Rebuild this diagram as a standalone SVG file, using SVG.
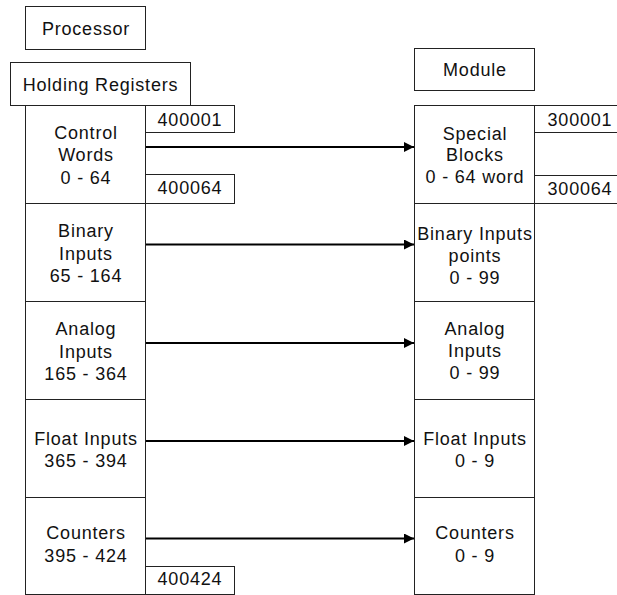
<svg xmlns="http://www.w3.org/2000/svg" width="617" height="595" viewBox="0 0 617 595">
<style>
rect{fill:#fff;stroke:#222;stroke-width:1}
text{font-family:"Liberation Sans",Arial,sans-serif;font-size:18px;letter-spacing:0.8px;fill:#111;text-anchor:middle}
.conn{stroke:#000;stroke-width:2;fill:none;marker-end:url(#ah)}
</style>
<defs>
<marker id="ah" markerUnits="userSpaceOnUse" markerWidth="10" markerHeight="10" refX="10" refY="5" orient="auto">
<path d="M0,0 L10,5 L0,10 z" fill="#000"/>
</marker>
</defs>
<g id="processor"><rect x="25.5" y="6.5" width="120" height="43"/><text x="86" y="35">Processor</text></g>
<g id="holding-registers"><rect x="10.5" y="62.5" width="180" height="43"/><text x="100.5" y="91">Holding Registers</text></g>
<g id="module"><rect x="414.5" y="48.5" width="120" height="42"/><text x="475" y="76">Module</text></g>

<g id="control-words"><rect x="25.5" y="105.5" width="120" height="98"/><text x="86" y="139">Control</text><text x="86" y="161">Words</text><text x="86" y="183.5">0 - 64</text></g>
<g id="binary-inputs-l"><rect x="25.5" y="203.5" width="120" height="98"/><text x="86" y="237">Binary</text><text x="86" y="259.5">Inputs</text><text x="86" y="282">65 - 164</text></g>
<g id="analog-inputs-l"><rect x="25.5" y="301.5" width="120" height="98"/><text x="86" y="335">Analog</text><text x="86" y="357.5">Inputs</text><text x="86" y="380">165 - 364</text></g>
<g id="float-inputs-l"><rect x="25.5" y="399.5" width="120" height="98"/><text x="86" y="445">Float Inputs</text><text x="86" y="467">365 - 394</text></g>
<g id="counters-l"><rect x="25.5" y="497.5" width="120" height="97"/><text x="86" y="538.5">Counters</text><text x="86" y="561.5">395 - 424</text></g>

<g id="addr-400001"><rect x="145.5" y="105.5" width="89" height="27"/><text x="190" y="126">400001</text></g>
<g id="addr-400064"><rect x="145.5" y="174.5" width="89" height="29"/><text x="190" y="194">400064</text></g>
<g id="addr-400424"><rect x="145.5" y="566.5" width="89" height="28"/><text x="190" y="585">400424</text></g>

<g id="special-blocks"><rect x="414.5" y="105.5" width="120" height="98"/><text x="475" y="140">Special</text><text x="475" y="161">Blocks</text><text x="475" y="183">0 - 64 word</text></g>
<g id="binary-inputs-r"><rect x="414.5" y="203.5" width="120" height="98"/><text x="475" y="239.5">Binary Inputs</text><text x="475" y="262">points</text><text x="475" y="284">0 - 99</text></g>
<g id="analog-inputs-r"><rect x="414.5" y="301.5" width="120" height="98"/><text x="475" y="335">Analog</text><text x="475" y="357">Inputs</text><text x="475" y="379">0 - 99</text></g>
<g id="float-inputs-r"><rect x="414.5" y="399.5" width="120" height="98"/><text x="475" y="445">Float Inputs</text><text x="475" y="467">0 - 9</text></g>
<g id="counters-r"><rect x="414.5" y="497.5" width="120" height="97"/><text x="475" y="538.5">Counters</text><text x="475" y="561.5">0 - 9</text></g>

<g id="addr-300001"><rect x="534.5" y="105.5" width="90" height="27"/><text x="580" y="126">300001</text></g>
<g id="addr-300064"><rect x="534.5" y="175.5" width="90" height="28"/><text x="580" y="194.5">300064</text></g>

<g id="connectors">
<line class="conn" x1="146" y1="147" x2="414" y2="147"/>
<line class="conn" x1="146" y1="244.5" x2="414" y2="244.5"/>
<line class="conn" x1="146" y1="343" x2="414" y2="343"/>
<line class="conn" x1="146" y1="441" x2="414" y2="441"/>
<line class="conn" x1="146" y1="538.5" x2="414" y2="538.5"/>
</g>
</svg>
